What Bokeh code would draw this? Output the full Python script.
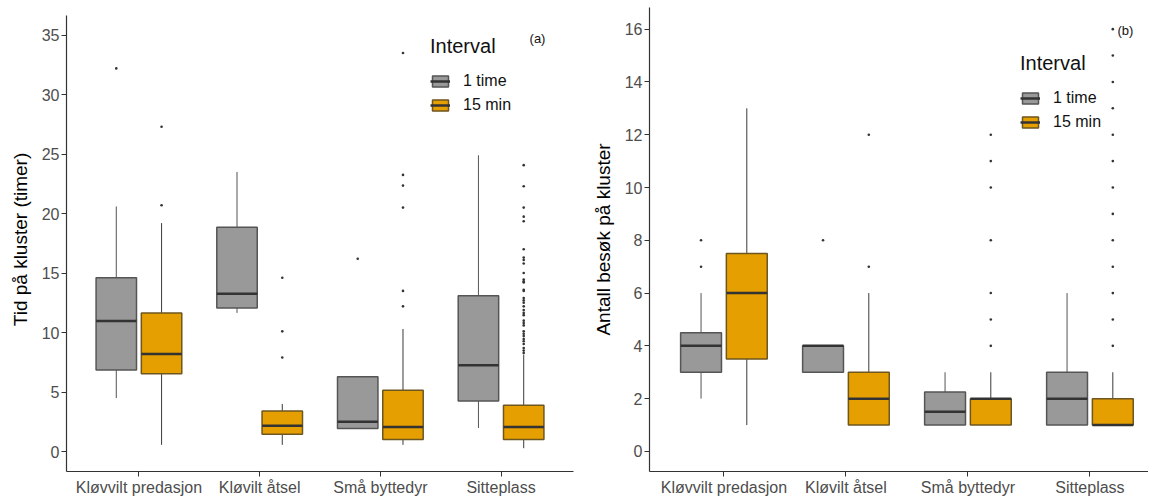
from bokeh.plotting import figure
from bokeh.layouts import row
from bokeh.models import FixedTicker, Legend, LegendItem, Label, Range1d
from bokeh.embed import file_html
from bokeh.resources import INLINE

categories = ["Kløvvilt predasjon", "Kløvilt åtsel", "Små byttedyr", "Sitteplass"]
intervals = ["1 time", "15 min"]

# Panel (a): Tid på kluster (timer)
a_1t_q1 = [6.85, 12.07, 1.94, 4.24]
a_1t_med = [10.98, 13.25, 2.5, 7.24]
a_1t_q3 = [14.6, 18.85, 6.29, 13.1]
a_1t_lo = [4.49, 11.65, 1.94, 1.97]
a_1t_hi = [20.6, 23.5, 6.29, 24.9]
a_1t_out = [[32.2], [], [16.2], []]

a_15_q1 = [6.54, 1.46, 1.01, 1.01]
a_15_med = [8.2, 2.16, 2.05, 2.05]
a_15_q3 = [11.65, 3.4, 5.14, 3.88]
a_15_lo = [0.56, 0.56, 0.56, 0.28]
a_15_hi = [19.2, 4.0, 10.3, 8.15]
a_15_out = [
    [20.7, 27.3],
    [7.9, 10.1, 14.6],
    [12.2, 13.5, 20.5, 22.35, 23.25, 33.5],
    [8.28, 8.48, 8.7, 9.04, 9.27, 9.46, 9.7, 9.9, 10.1, 10.6, 10.8, 11.0,
     11.46, 11.65, 11.9, 12.2, 12.5, 12.7, 12.9, 13.5, 13.6, 14.2, 14.3,
     14.46, 15.0, 15.8, 16.1, 16.3, 17.0, 19.35, 19.74, 20.5, 22.3, 24.07],
]

# Panel (b): Antall besøk på kluster
b_1t_q1 = [3.0, 3.0, 1.0, 1.0]
b_1t_med = [4.0, 4.0, 1.5, 2.0]
b_1t_q3 = [4.5, 4.0, 2.25, 3.0]
b_1t_lo = [2.0, 3.0, 1.0, 1.0]
b_1t_hi = [6.0, 4.0, 3.0, 6.0]
b_1t_out = [[7, 8], [8], [], []]

b_15_q1 = [3.5, 1.0, 1.0, 1.0]
b_15_med = [6.0, 2.0, 2.0, 1.0]
b_15_q3 = [7.5, 3.0, 2.0, 2.0]
b_15_lo = [1.0, 1.0, 1.0, 1.0]
b_15_hi = [13.0, 6.0, 3.0, 3.0]
b_15_out = [[], [7, 12], [4, 5, 6, 8, 10, 11, 12],
            [4, 5, 6, 7, 8, 9, 10, 11, 12, 13, 14, 15, 16]]

FONT = "Liberation Sans"
FILLS = ["#999999", "#E69F00"]
LINES = ["#555555", "#6e5620"]
WHISK = ["#555555", "#3a3a3a"]
OFFS = [-0.1875, 0.1875]
BW = 0.335


def make_panel(width, height, xr, yr, yticks, ytitle, series, mb_left, mb_right, mb_top, ybounds):
    p = figure(width=width, height=height, x_range=Range1d(*xr), y_range=Range1d(*yr),
               output_backend="svg", toolbar_location=None,
               min_border_left=mb_left, min_border_right=mb_right,
               min_border_top=mb_top, min_border_bottom=0)
    p.background_fill_color = "white"
    p.border_fill_color = "white"
    p.outline_line_color = None
    p.xgrid.visible = False
    p.ygrid.visible = False

    renderers = []
    for k, (q1, med, q3, lo, hi, outs) in enumerate(series):
        xs = [i + 1 + OFFS[k] for i in range(len(categories))]
        p.segment(xs, q3, xs, hi, line_color=WHISK[k], line_width=1)
        p.segment(xs, q1, xs, lo, line_color=WHISK[k], line_width=1)
        box = p.vbar(x=xs, width=BW, top=q3, bottom=q1, fill_color=FILLS[k],
                     line_color=LINES[k], line_width=1.5)
        medr = p.segment([x - BW / 2 for x in xs], med, [x + BW / 2 for x in xs], med,
                         line_color="#333333", line_width=2.5)
        ox, oy = [], []
        for i, vals in enumerate(outs):
            for v in vals:
                ox.append(xs[i])
                oy.append(v)
        p.scatter(ox, oy, size=2.6, color="#333333", line_width=0)
        renderers.append([box, medr])

    p.xaxis.ticker = FixedTicker(ticks=[1, 2, 3, 4])
    p.xaxis.major_label_overrides = {i + 1: c for i, c in enumerate(categories)}
    p.yaxis.ticker = FixedTicker(ticks=yticks)
    p.yaxis.bounds = ybounds
    for ax in (p.xaxis[0], p.yaxis[0]):
        ax.axis_line_color = "#333333"
        ax.axis_line_width = 1.2
        ax.major_tick_line_color = "#333333"
        ax.major_tick_out = 5
        ax.major_tick_in = 0
        ax.minor_tick_line_color = None
        ax.major_label_text_font = FONT
        ax.major_label_text_font_size = "16px"
        ax.major_label_text_color = "#4d4d4d"
        ax.major_label_standoff = 2
    p.yaxis.axis_label = ytitle
    p.yaxis.axis_label_text_font = FONT
    p.yaxis.axis_label_text_font_size = "19px"
    p.yaxis.axis_label_text_font_style = "normal"
    p.yaxis.axis_label_text_color = "#000000"
    p.yaxis.axis_label_standoff = 8

    legend = Legend(items=[LegendItem(label=intervals[k], renderers=renderers[k]) for k in range(2)],
                    title="Interval")
    legend.title_text_font = FONT
    legend.title_text_font_size = "20px"
    legend.title_text_font_style = "normal"
    legend.title_text_color = "#111111"
    legend.title_standoff = 13
    legend.label_text_font = FONT
    legend.label_text_font_size = "16px"
    legend.label_text_color = "#111111"
    legend.glyph_width = 20
    legend.glyph_height = 14
    legend.label_height = 20
    legend.spacing = 4
    legend.label_standoff = 13
    legend.padding = 0
    legend.margin = 0
    legend.border_line_color = None
    legend.background_fill_alpha = 0
    p.add_layout(legend)
    return p, legend


p1, leg1 = make_panel(585, 498, (0.4, 4.6), (-1.68, 37.32), [0, 5, 10, 15, 20, 25, 30, 35],
                      "Tid på kluster (timer)",
                      [(a_1t_q1, a_1t_med, a_1t_q3, a_1t_lo, a_1t_hi, a_1t_out),
                       (a_15_q1, a_15_med, a_15_q3, a_15_lo, a_15_hi, a_15_out)],
                      66, 12, 7, (-1.68, 36.65))
leg1.location = (364, 356)
p1.add_layout(Label(x=4.236, y=34.7, text="(a)", text_font=FONT, text_font_size="13px",
                    text_color="#111111", text_baseline="middle"))

p2, leg2 = make_panel(563, 498, (0.39, 4.48), (-0.76, 16.82), [0, 2, 4, 6, 8, 10, 12, 14, 16],
                      "Antall besøk på kluster",
                      [(b_1t_q1, b_1t_med, b_1t_q3, b_1t_lo, b_1t_hi, b_1t_out),
                       (b_15_q1, b_15_med, b_15_q3, b_15_lo, b_15_hi, b_15_out)],
                      64, 0, 7, (-0.76, 16.82))
leg2.location = (371, 339)
p2.add_layout(Label(x=4.226, y=15.95, text="(b)", text_font=FONT, text_font_size="13px",
                    text_color="#111111", text_baseline="middle"))

layout = row(p1, p2)
open("out.html", "w").write(file_html(layout, INLINE))
